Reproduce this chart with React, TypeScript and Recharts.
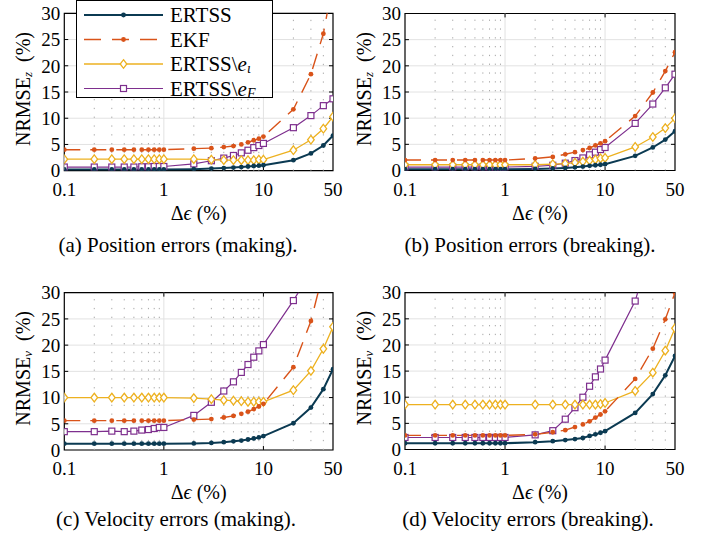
import React from 'react';
import { LineChart, Line, XAxis, YAxis, CartesianGrid, ReferenceLine, ReferenceArea, Legend } from 'recharts';

// ---------- data ----------
const deltaEpsilon = [0.1, 0.2, 0.3, 0.4, 0.5, 0.6, 0.7, 0.8, 0.9, 1, 2, 3, 4, 5, 6, 7, 8, 9, 10, 20, 30, 40, 50];
const xTickValues = [0.1, 1, 10, 50];
const xTickLabels = ['0.1', '1', '10', '50'];
const yTickValues = [0, 5, 10, 15, 20, 25, 30];
const minorGridX = [0.2, 0.3, 0.4, 0.5, 0.6, 0.7, 0.8, 0.9, 2, 3, 4, 5, 6, 7, 8, 9, 20, 30, 40];
const majorGridX = [1, 10];
const innerTickY = [5, 10, 15, 20, 25];

// (a) position errors, making
const posMakingERTSS = [0.25, 0.25, 0.25, 0.25, 0.25, 0.25, 0.25, 0.25, 0.25, 0.25, 0.3, 0.4, 0.5, 0.6, 0.7, 0.8, 0.9, 0.95, 1.05, 2.0, 3.3, 4.8, 6.7];
const posMakingEKF = [4.0, 4.0, 4.0, 4.0, 4.0, 4.0, 4.0, 4.0, 4.0, 4.0, 4.2, 4.3, 4.5, 4.7, 5.0, 5.4, 5.8, 6.1, 6.5, 11.7, 18.4, 26.1, 36];
const posMakingNoIota = [2.2, 2.2, 2.2, 2.2, 2.2, 2.2, 2.2, 2.2, 2.2, 2.2, 2.2, 2.1, 2.0, 2.0, 2.0, 2.0, 2.0, 2.1, 2.1, 3.9, 5.9, 8.0, 10.3];
const posMakingNoF = [0.7, 0.7, 0.7, 0.7, 0.7, 0.75, 0.75, 0.8, 0.8, 0.8, 1.3, 1.9, 2.4, 2.9, 3.4, 3.9, 4.4, 4.8, 5.2, 8.2, 10.5, 12.4, 13.7];

// (b) position errors, breaking
const posBreakingERTSS = [0.25, 0.25, 0.25, 0.25, 0.25, 0.25, 0.25, 0.25, 0.25, 0.25, 0.3, 0.4, 0.5, 0.6, 0.75, 0.9, 1.0, 1.1, 1.2, 2.8, 4.4, 5.9, 7.5];
const posBreakingEKF = [2.0, 2.0, 2.0, 2.0, 2.0, 2.0, 2.0, 2.0, 2.0, 2.0, 2.3, 2.6, 3.1, 3.5, 3.9, 4.3, 4.8, 5.2, 5.6, 10.4, 14.9, 19.0, 22.6];
const posBreakingNoIota = [1.1, 1.1, 1.1, 1.1, 1.1, 1.1, 1.1, 1.1, 1.1, 1.1, 1.1, 1.2, 1.3, 1.5, 1.7, 1.9, 2.1, 2.3, 2.4, 4.5, 6.4, 8.1, 10.0];
const posBreakingNoF = [0.65, 0.65, 0.65, 0.65, 0.65, 0.65, 0.65, 0.65, 0.65, 0.65, 0.8, 1.0, 1.4, 1.9, 2.4, 3.0, 3.5, 4.0, 4.4, 9.0, 12.7, 15.8, 18.4];

// (c) velocity errors, making
const velMakingERTSS = [1.2, 1.2, 1.2, 1.2, 1.2, 1.2, 1.2, 1.2, 1.2, 1.2, 1.25, 1.35, 1.5, 1.65, 1.8, 2.0, 2.2, 2.4, 2.65, 5.1, 8.1, 11.6, 15.4];
const velMakingEKF = [5.6, 5.6, 5.6, 5.6, 5.6, 5.6, 5.6, 5.6, 5.6, 5.6, 5.8, 5.9, 6.2, 6.5, 6.9, 7.3, 7.8, 8.3, 8.8, 15.8, 24.6, 34, 42];
const velMakingNoIota = [10.0, 10.0, 10.0, 10.0, 10.0, 10.0, 10.0, 10.0, 10.0, 10.0, 9.9, 9.7, 9.5, 9.4, 9.3, 9.2, 9.2, 9.2, 9.2, 11.4, 15.1, 19.3, 23.5];
const velMakingNoF = [3.5, 3.5, 3.6, 3.5, 3.6, 3.8, 3.9, 4.1, 4.3, 4.3, 6.6, 9.1, 11.25, 13.0, 14.8, 16.3, 17.7, 18.9, 20.1, 28.5, 34, 39, 43];

// (d) velocity errors, breaking
const velBreakingERTSS = [1.2, 1.2, 1.2, 1.2, 1.2, 1.2, 1.2, 1.2, 1.2, 1.2, 1.4, 1.6, 1.8, 2.0, 2.2, 2.6, 2.9, 3.2, 3.5, 7.0, 10.6, 14.2, 17.9];
const velBreakingEKF = [2.7, 2.7, 2.7, 2.7, 2.7, 2.7, 2.7, 2.7, 2.7, 2.7, 2.9, 3.3, 3.7, 4.3, 4.8, 5.4, 6.1, 6.7, 7.3, 13.5, 19.3, 24.9, 30.0];
const velBreakingNoIota = [8.6, 8.6, 8.6, 8.6, 8.6, 8.6, 8.6, 8.6, 8.6, 8.6, 8.6, 8.6, 8.6, 8.6, 8.6, 8.6, 8.6, 8.7, 8.9, 11.2, 14.7, 18.9, 23.2];
const velBreakingNoF = [2.3, 2.3, 2.3, 2.3, 2.3, 2.3, 2.3, 2.3, 2.3, 2.3, 2.8, 3.6, 5.8, 8.0, 10.0, 12.1, 13.9, 15.4, 17.1, 28.4, 40, 48, 55];

const captions = [
  '(a) Position errors (making).',
  '(b) Position errors (breaking).',
  '(c) Velocity errors (making).',
  '(d) Velocity errors (breaking).',
];

// ---------- styles ----------
const SERIF = 'Liberation Serif, DejaVu Serif, Times New Roman, serif';
const C_ERTSS = '#0b3a52';
const C_EKF = '#d95319';
const C_IOTA = '#edb120';
const C_F = '#7e2f8e';

const buildRows = (a: number[], b: number[], c: number[], d: number[]) =>
  deltaEpsilon.map((x, i) => ({ x, ertss: a[i], ekf: b[i], noIota: c[i], noF: d[i] }));

const rowsA = buildRows(posMakingERTSS, posMakingEKF, posMakingNoIota, posMakingNoF);
const rowsB = buildRows(posBreakingERTSS, posBreakingEKF, posBreakingNoIota, posBreakingNoF);
const rowsC = buildRows(velMakingERTSS, velMakingEKF, velMakingNoIota, velMakingNoF);
const rowsD = buildRows(velBreakingERTSS, velBreakingEKF, velBreakingNoIota, velBreakingNoF);

const makeDot = (kind: string, color: string) => (props: any) => {
  const { cx, cy, index } = props;
  const key = `dot-${kind}-${index}`;
  if (cx == null || cy == null || isNaN(cx) || isNaN(cy)) return <g key={key} />;
  if (kind === 'circle') return <circle key={key} cx={cx} cy={cy} r={2.4} fill={color} stroke="none" />;
  if (kind === 'diamond')
    return (
      <path
        key={key}
        d={`M${cx},${cy - 4.3}L${cx + 3.3},${cy}L${cx},${cy + 4.3}L${cx - 3.3},${cy}Z`}
        fill="#fff"
        stroke={color}
        strokeWidth={1.3}
      />
    );
  return <rect key={key} x={cx - 3} y={cy - 3} width={6} height={6} fill="#fff" stroke={color} strokeWidth={1.2} />;
};

const tickFmt = (v: number) => {
  const i = xTickValues.indexOf(v);
  return i >= 0 ? xTickLabels[i] : String(v);
};

const makeYTitle = (sub: string) => (props: any) => {
  const vb = props.viewBox;
  if (!vb) return null;
  const cx = vb.x + vb.width - 41;
  const cy = vb.y + vb.height / 2 - 3;
  return (
    <text
      x={cx}
      y={cy}
      transform={`rotate(-90 ${cx} ${cy})`}
      textAnchor="middle"
      dominantBaseline="central"
      fontFamily={SERIF}
      fontSize={20}
      fill="#000"
    >
      NRMSE
      <tspan fontSize={13} fontStyle="italic" dy={4}>
        {sub}
      </tspan>
      <tspan dy={-4}>{'\u2002(%)'}</tspan>
    </text>
  );
};

const XTitle = (props: any) => {
  const vb = props.viewBox;
  if (!vb) return null;
  const cx = vb.x + vb.width / 2;
  const cy = vb.y + 42;
  return (
    <text x={cx} y={cy} textAnchor="middle" dominantBaseline="central" fontFamily={SERIF} fontSize={20} fill="#000">
      Δ<tspan fontStyle="italic">ϵ</tspan>
      {' (%)'}
    </text>
  );
};

const legendItems = [
  { label: 'ERTSS', sub: '', color: C_ERTSS, dash: undefined as string | undefined, marker: 'circle', width: 2 },
  { label: 'EKF', sub: '', color: C_EKF, dash: '17 11', marker: 'circle', width: 1.4 },
  { label: 'ERTSS\\', sub: 'ι', color: C_IOTA, dash: undefined, marker: 'diamond', width: 1.3 },
  { label: 'ERTSS\\', sub: 'F', color: C_F, dash: undefined, marker: 'square', width: 1.2 },
];

const LegendBox = () => (
  <svg width={198} height={100} style={{ display: 'block' }}>
    <rect x={0.5} y={0.5} width={196} height={97} fill="#fff" stroke="#000" strokeWidth={1} />
    {legendItems.map((it, i) => {
      const y = 15 + i * 24.5;
      const dot = makeDot(it.marker, it.color);
      return (
        <g key={it.label + i}>
          <line x1={8} x2={87} y1={y} y2={y} stroke={it.color} strokeWidth={it.width} strokeDasharray={it.dash} />
          {dot({ cx: 47.5, cy: y, index: i })}
          <text x={94} y={y} dominantBaseline="central" fontFamily={SERIF} fontSize={21} fill="#000">
            {it.label}
            {it.sub ? (
              <>
                <tspan fontStyle="italic">e</tspan>
                <tspan fontStyle="italic" fontSize={14} dy={4}>
                  {it.sub}
                </tspan>
              </>
            ) : null}
          </text>
        </g>
      );
    })}
  </svg>
);

type PanelProps = {
  left: number;
  top: number;
  width: number;
  margin: { top: number; right: number; bottom: number; left: number };
  rows: any[];
  ySub: string;
  showLegend?: boolean;
};

const Panel = ({ left, top, width, margin, rows, ySub, showLegend }: PanelProps) => (
  <div style={{ position: 'absolute', left, top, width, height: 270 }}>
    <LineChart width={width} height={270} data={rows} margin={margin}>
      <CartesianGrid vertical={false} stroke="#e2e2e2" strokeWidth={1} />
      {minorGridX.map((v) => (
        <ReferenceLine key={'mg' + v} x={v} stroke="#a8a8a8" strokeDasharray="1.3 7.5" strokeWidth={1} />
      ))}
      {majorGridX.map((v) => (
        <ReferenceLine key={'Mg' + v} x={v} stroke="#e2e2e2" strokeWidth={1} />
      ))}
      <XAxis
        dataKey="x"
        type="number"
        scale="log"
        domain={[0.1, 50]}
        allowDataOverflow
        ticks={xTickValues}
        interval={0}
        tickFormatter={tickFmt}
        tickLine={false}
        axisLine={false}
        tickSize={0}
        tickMargin={12}
        height={60}
        tick={{ fontFamily: SERIF, fontSize: 19, fill: '#000' }}
        label={XTitle}
      />
      <YAxis
        type="number"
        domain={[0, 30]}
        allowDataOverflow
        ticks={yTickValues}
        interval={0}
        tickLine={false}
        axisLine={false}
        tickSize={0}
        tickMargin={4}
        width={40}
        tick={{ fontFamily: SERIF, fontSize: 19, fill: '#000' }}
        label={makeYTitle(ySub)}
      />
      {innerTickY.map((v) => (
        <ReferenceLine key={'tl' + v} segment={[{ x: 0.1, y: v }, { x: 0.1095, y: v }]} stroke="#000" strokeWidth={1} />
      ))}
      {innerTickY.map((v) => (
        <ReferenceLine key={'tr' + v} segment={[{ x: 45.6, y: v }, { x: 50, y: v }]} stroke="#000" strokeWidth={1} />
      ))}
      {majorGridX.map((v) => (
        <ReferenceLine key={'tb' + v} segment={[{ x: v, y: 0 }, { x: v, y: 0.75 }]} stroke="#000" strokeWidth={1} />
      ))}
      {majorGridX.map((v) => (
        <ReferenceLine key={'tt' + v} segment={[{ x: v, y: 29.25 }, { x: v, y: 30 }]} stroke="#000" strokeWidth={1} />
      ))}
      <Line
        dataKey="noF"
        name="ERTSS\\e_F"
        stroke={C_F}
        strokeWidth={1.2}
        dot={makeDot('square', C_F)}
        isAnimationActive={false}
        type="linear"
      />
      <Line
        dataKey="noIota"
        name="ERTSS\\e_ι"
        stroke={C_IOTA}
        strokeWidth={1.3}
        dot={makeDot('diamond', C_IOTA)}
        isAnimationActive={false}
        type="linear"
      />
      <Line
        dataKey="ekf"
        name="EKF"
        stroke={C_EKF}
        strokeWidth={1.4}
        strokeDasharray="16 10"
        dot={makeDot('circle', C_EKF)}
        isAnimationActive={false}
        type="linear"
      />
      <Line
        dataKey="ertss"
        name="ERTSS"
        stroke={C_ERTSS}
        strokeWidth={2}
        dot={makeDot('circle', C_ERTSS)}
        isAnimationActive={false}
        type="linear"
      />
      <ReferenceArea x1={0.1} x2={50} y1={0} y2={30} fill="none" fillOpacity={0} stroke="#000" strokeWidth={1.2} />
      {showLegend ? (
        <Legend
          layout="horizontal"
          verticalAlign="middle"
          align="center"
          content={<LegendBox />}
          wrapperStyle={{ position: 'absolute', left: 76, top: 0, width: 198, height: 100, margin: 0, padding: 0 }}
        />
      ) : null}
    </LineChart>
  </div>
);

const captionStyle = (cx: number, cy: number): React.CSSProperties => ({
  position: 'absolute',
  left: cx,
  top: cy,
  transform: 'translate(-50%, -50%)',
  whiteSpace: 'nowrap',
  fontFamily: SERIF,
  fontSize: 21,
  lineHeight: '24px',
  color: '#000',
});

export default function App() {
  return (
    <div style={{ position: 'absolute', left: 0, top: 0, width: 711, height: 540, background: '#fff', overflow: 'hidden' }}>
      <Panel left={0} top={0} width={345} margin={{ top: 13.3, right: 12, bottom: 39.3, left: 24.3 }} rows={rowsA} ySub="z" showLegend />
      <Panel left={340} top={0} width={371} margin={{ top: 13.5, right: 36, bottom: 39.5, left: 25 }} rows={rowsB} ySub="z" />
      <Panel left={0} top={270} width={345} margin={{ top: 22.7, right: 12, bottom: 30, left: 24.3 }} rows={rowsC} ySub="v" />
      <Panel left={340} top={270} width={371} margin={{ top: 22.7, right: 36, bottom: 30.5, left: 25 }} rows={rowsD} ySub="v" />
      <div style={captionStyle(178, 245)}>{captions[0]}</div>
      <div style={captionStyle(530, 245)}>{captions[1]}</div>
      <div style={captionStyle(176, 519)}>{captions[2]}</div>
      <div style={captionStyle(528, 519)}>{captions[3]}</div>
    </div>
  );
}
